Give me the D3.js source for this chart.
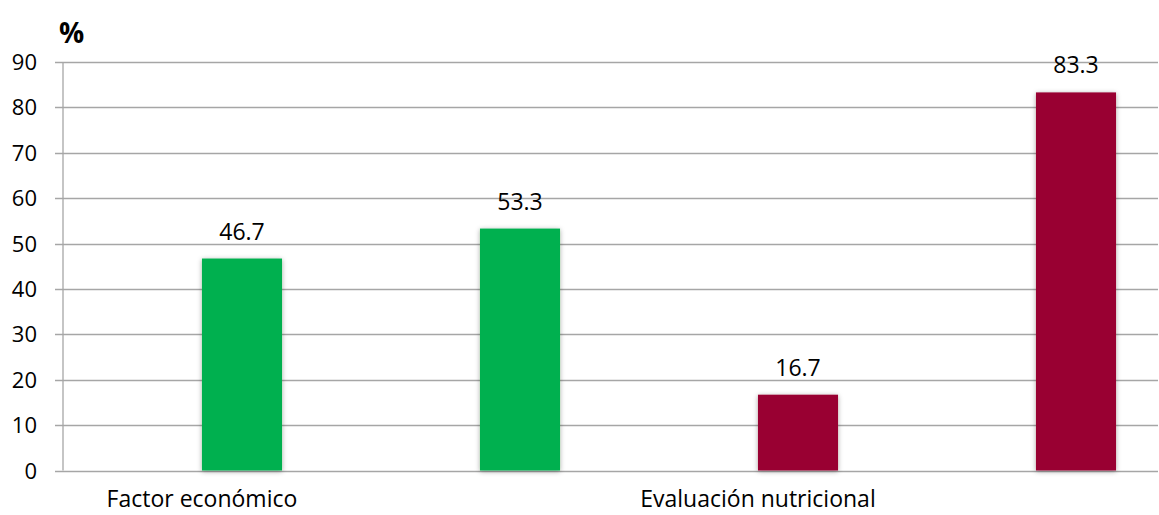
<!DOCTYPE html>
<html>
<head>
<meta charset="utf-8">
<script src="https://cdn.jsdelivr.net/npm/d3@7"></script>
<style>
  body { margin: 0; background: #fff; }
  text { font-family: "Open Sans", Lato, sans-serif; fill: #000; }
</style>
</head>
<body>
<div id="container"></div>
<script>
// data
const categories = ["Factor económico", "", "Evaluación nutricional", ""];
const values = [46.7, 53.3, 16.7, 83.3];
const barColors = ["#00B050", "#00B050", "#990033", "#990033"];
const yTicks = [0, 10, 20, 30, 40, 50, 60, 70, 80, 90];

function main() {
    const width = 1159, height = 515;
    const svg = d3.select("#container")
        .append("svg")
        .attr("width", width)
        .attr("height", height);

    const defs = svg.append("defs");
    const f = defs.append("filter")
        .attr("id", "shadow")
        .attr("x", "-20%").attr("y", "-10%")
        .attr("width", "140%").attr("height", "120%");
    f.append("feDropShadow")
        .attr("dx", 0).attr("dy", 1)
        .attr("stdDeviation", 2.5)
        .attr("flood-color", "#000")
        .attr("flood-opacity", 0.35);

    const left = 63, right = 1158;
    const y = d3.scaleLinear()
        .domain([0, 90])
        .range([470.5, 62]);
    const x = d3.scaleBand()
        .domain(d3.range(values.length))
        .range([103, 1215])
        .paddingInner(0.712)
        .paddingOuter(0.356);

    // gridlines + ticks
    svg.append("g")
        .selectAll("line")
        .data(yTicks)
        .join("line")
        .attr("x1", left - 8)
        .attr("x2", right)
        .attr("y1", d => Math.round(y(d)) + 0.5)
        .attr("y2", d => Math.round(y(d)) + 0.5)
        .attr("stroke", "#A6A6A6")
        .attr("stroke-width", 1.3);

    svg.append("line")
        .attr("x1", left).attr("x2", left)
        .attr("y1", y(90)).attr("y2", y(0))
        .attr("stroke", "#A6A6A6")
        .attr("stroke-width", 1.3);

    svg.append("g")
        .selectAll("text")
        .data(yTicks)
        .join("text")
        .attr("x", 37)
        .attr("y", d => y(d) + 8)
        .attr("text-anchor", "end")
        .attr("font-size", 22)
        .text(d => d);

    svg.append("text")
        .attr("x", 59)
        .attr("y", 43)
        .attr("font-size", 28)
        .attr("font-weight", "bold")
        .text("%");

    // bars
    svg.append("g")
        .selectAll("rect")
        .data(values)
        .join("rect")
        .attr("x", (d, i) => x(i))
        .attr("y", d => y(d))
        .attr("width", x.bandwidth())
        .attr("height", d => y(0) - y(d))
        .attr("fill", (d, i) => barColors[i])
        .attr("filter", "url(#shadow)");

    // value labels
    svg.append("g")
        .selectAll("text")
        .data(values)
        .join("text")
        .attr("x", (d, i) => x(i) + x.bandwidth() / 2)
        .attr("y", d => y(d) - 19)
        .attr("text-anchor", "middle")
        .attr("font-size", 23)
        .text(d => d.toFixed(1));

    // category labels
    svg.append("g")
        .selectAll("text")
        .data(categories)
        .join("text")
        .attr("x", (d, i) => x(i))
        .attr("y", 507)
        .attr("text-anchor", "middle")
        .attr("font-size", 23)
        .text(d => d);
}
main();
</script>
</body>
</html>
